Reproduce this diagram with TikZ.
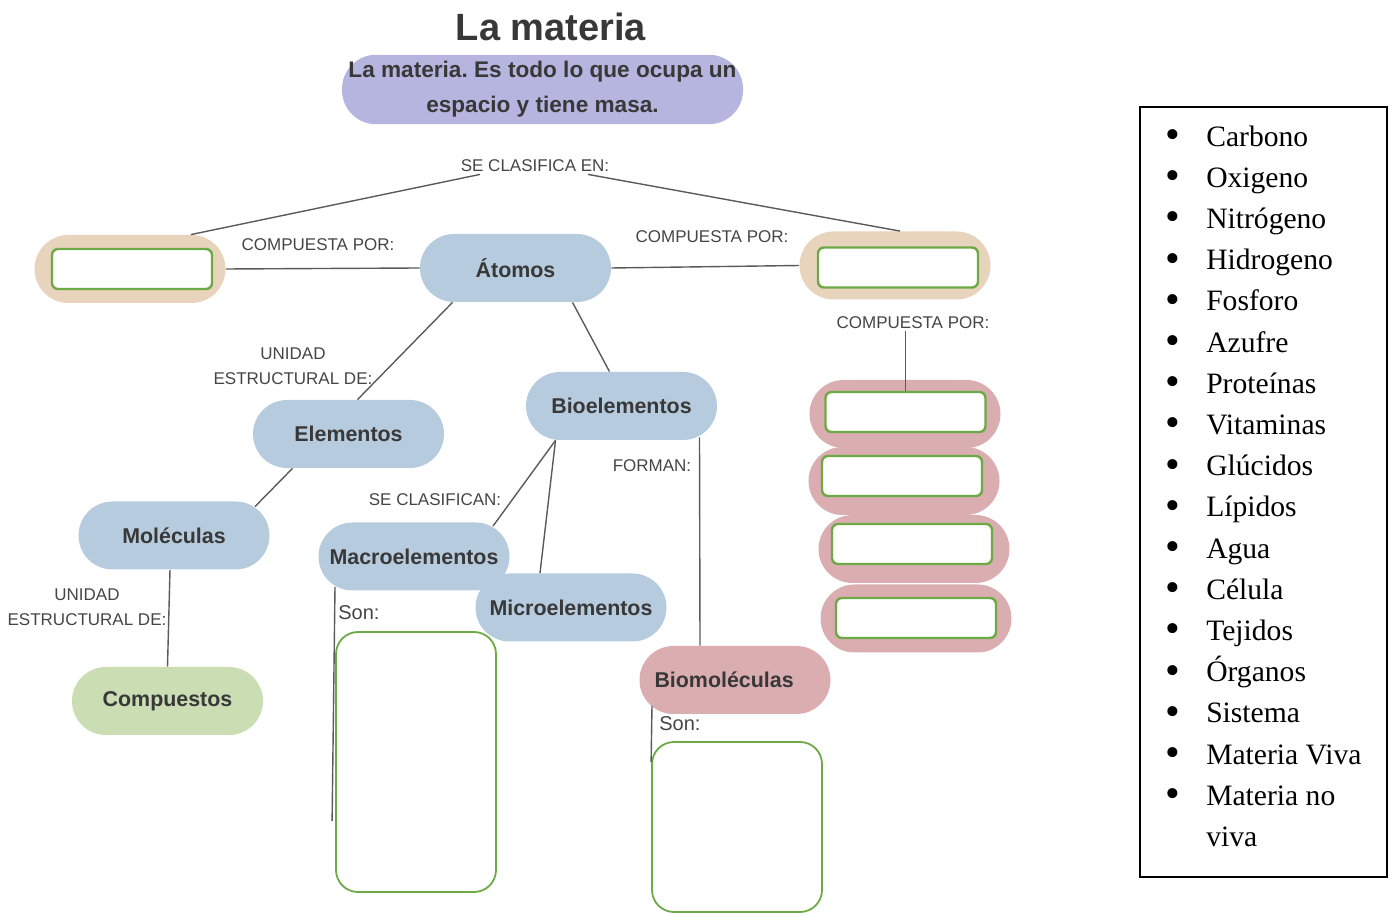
\documentclass[tikz,border=0pt]{standalone}
\usepackage{fontspec}
\setmainfont{Liberation Sans}
\newfontfamily\listfont{Liberation Serif}
\usetikzlibrary{shapes.misc}
\frenchspacing
\definecolor{ink}{HTML}{383838}
\definecolor{labelgray}{HTML}{454545}
\definecolor{linkgray}{HTML}{5A5A5A}
\definecolor{pillpurple}{HTML}{B5B5E0}
\definecolor{pillblue}{HTML}{B7CBDF}
\definecolor{pillbeige}{HTML}{E8D3BC}
\definecolor{pillpink}{HTML}{DAAEB1}
\definecolor{pillgreen}{HTML}{CADDB3}
\definecolor{slotgreen}{HTML}{6DAA45}
\newcommand{\listdot}{\raisebox{-1.2pt}{\fontsize{21}{0}\selectfont\textbullet}}
\tikzstyle{pill} = [
rectangle,
rounded corners=17pt,
minimum width=95.5pt,
minimum height=34pt,
inner xsep=2pt,
text=ink,
font=\bfseries\fontsize{10.7}{13}\selectfont
]
\tikzstyle{bluepill} = [pill, fill=pillblue]
\tikzstyle{beigepill} = [pill, fill=pillbeige]
\tikzstyle{pinkpill} = [pill, fill=pillpink]
\tikzstyle{greenpill} = [pill, fill=pillgreen]
\tikzstyle{slot} = [
rectangle,
rounded corners=3pt,
draw=slotgreen,
line width=1.2pt,
fill=white,
minimum width=80pt,
minimum height=20pt
]
\tikzstyle{bigslot} = [
rectangle,
rounded corners=11pt,
draw=slotgreen,
line width=0.9pt,
minimum width=80pt,
minimum height=130pt
]
\tikzstyle{linktext} = [
text=labelgray,
font=\fontsize{8.5}{12.5}\selectfont,
align=center,
inner sep=1pt
]
\tikzstyle{sontext} = [
text=labelgray,
font=\fontsize{10}{12}\selectfont,
inner sep=0pt,
anchor=west
]
\tikzstyle{link} = [
draw=linkgray,
line width=0.7pt
]
\tikzstyle{listbox} = [
rectangle,
draw=black,
line width=0.7pt,
minimum width=123.5pt,
minimum height=385pt,
font=\listfont\fontsize{14.8}{20.6}\selectfont
]

\begin{document}
\begin{tikzpicture}[x=0.5pt,y=-0.5pt]
\useasboundingbox (0,0) rectangle (1392,913);
%Nodes
\node[text=ink,font=\bfseries\fontsize{19}{23}\selectfont] (title) at (551,27) {La materia};
\node[rectangle,rounded corners=17pt,fill=pillpurple,minimum height=34.5pt,inner xsep=3.25pt,align=center,text=ink,font=\bfseries\fontsize{11.3}{17.5}\selectfont] (def) at (542.5,89.5) {La materia. Es todo lo que ocupa un\\espacio y tiene masa.};
\node[linktext] (clasif) at (535,166) {SE CLASIFICA EN:};
\node[beigepill] (leftbox) at (130,269) {};
\node[slot] (leftslot) at (132,269) {};
\node[bluepill] (atomos) at (515.5,268) {Átomos};
\node[beigepill] (rightbox) at (895,265.5) {};
\node[slot] (rightslot) at (898,267.5) {};
\node[linktext] (compL) at (318,245) {COMPUESTA POR:};
\node[linktext] (compR) at (712,237) {COMPUESTA POR:};
\node[linktext] (compD) at (913,323) {COMPUESTA POR:};
\node[pinkpill] (pink1) at (905,414) {};
\node[pinkpill] (pink2) at (904,481) {};
\node[pinkpill] (pink3) at (914,549) {};
\node[pinkpill] (pink4) at (916,618.5) {};
\node[slot] (slot1) at (905.5,412) {};
\node[slot] (slot2) at (902,476) {};
\node[slot] (slot3) at (912,544) {};
\node[slot] (slot4) at (916,618) {};
\node[linktext] (unidad1) at (293,366) {UNIDAD\\ESTRUCTURAL DE:};
\node[bluepill] (elementos) at (348.5,434) {Elementos};
\node[bluepill] (bioelementos) at (621.5,406) {Bioelementos};
\node[bluepill] (moleculas) at (174,535.5) {Moléculas};
\node[linktext] (unidad2) at (87,607) {UNIDAD\\ESTRUCTURAL DE:};
\node[greenpill] (compuestos) at (167.5,701) {Compuestos};
\node[linktext] (seclas) at (435,500) {SE CLASIFICAN:};
\node[bluepill] (macro) at (414,556.5) {Macroelementos};
\node[bluepill] (micro) at (571,607.5) {Microelementos};
\node[linktext] (forman) at (652,466) {FORMAN:};
\node[pinkpill,text width=80.5pt,inner xsep=7.5pt,align=left] (biomol) at (735,680) {Biomoléculas};
\node[sontext] (son1) at (338,613) {Son:};
\node[bigslot] (macrolist) at (416,762) {};
\node[sontext] (son2) at (659,724) {Son:};
\node[bigslot,minimum width=85pt,minimum height=85pt] (biolist) at (737,827) {};
\node[listbox] (list) at (1263.5,492) {%
\begin{tabular}{@{}l@{\hspace{13pt}}l@{}}
\listdot & Carbono\\
\listdot & Oxigeno\\
\listdot & Nitrógeno\\
\listdot & Hidrogeno\\
\listdot & Fosforo\\
\listdot & Azufre\\
\listdot & Proteínas\\
\listdot & Vitaminas\\
\listdot & Glúcidos\\
\listdot & Lípidos\\
\listdot & Agua\\
\listdot & Célula\\
\listdot & Tejidos\\
\listdot & Órganos\\
\listdot & Sistema\\
\listdot & Materia Viva\\
\listdot & Materia no\\
 & viva\\[4pt]
\end{tabular}};
%Lines
\draw[link] ([xshift=-27.5pt]clasif.south) -- ([xshift=-17.5pt]leftbox.north east);
\draw[link] ([xshift=26.5pt]clasif.south) -- ([xshift=2.5pt]rightbox.north);
\draw[link] (leftbox.east) -- (atomos.west);
\draw[link] (atomos.east) -- (rightbox.west);
\draw[link] (slot1.north |- compD.south) -- (slot1.north);
\draw[link] ([xshift=-31.5pt]atomos.south) -- ([xshift=4.5pt]elementos.north);
\draw[link] ([xshift=28.5pt]atomos.south) -- ([xshift=-6pt]bioelementos.north);
\draw[link] ([xshift=-28pt]elementos.south) -- ([xshift=40.5pt,yshift=-2.75pt]moleculas.north);
\draw[link] ([xshift=-2pt]moleculas.south) -- (compuestos.north);
\draw[link] ([xshift=-33pt]bioelementos.south) -- ([xshift=39.5pt,yshift=-2pt]macro.north);
\draw[link] ([xshift=-33pt]bioelementos.south) -- ([xshift=-15.5pt]micro.north);
\draw[link] ([xshift=39pt,yshift=1.5pt]bioelementos.south) -- ([xshift=-17.5pt]biomol.north);
\draw[link] ([xshift=-39.5pt,yshift=2pt]macro.south) -- ([xshift=-1.5pt,yshift=36pt]macrolist.south west);
\draw[link] ([xshift=-41.5pt,yshift=4.3pt]biomol.south) -- ([yshift=-10.5pt]biolist.north west);
\end{tikzpicture}
\end{document}
